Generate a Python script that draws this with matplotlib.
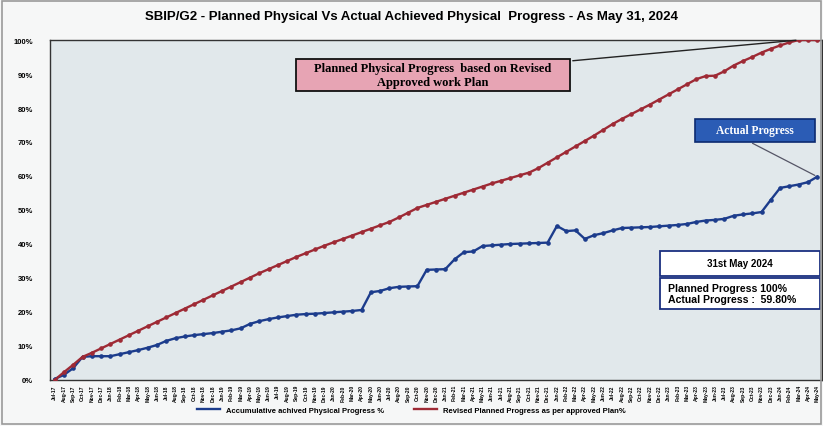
import numpy as np
import pandas as pd
import matplotlib
matplotlib.use("Agg")
from matplotlib import pyplot as plt
from matplotlib.patches import Rectangle

# month labels Jul-17 .. May-24
months = list(pd.date_range("2017-07-01", periods=83, freq="MS").strftime("%b-%y"))

planned = [0.0, 2.3, 4.5, 6.8, 8.0, 9.3, 10.6, 11.9, 13.2, 14.5,
           15.8, 17.1, 18.4, 19.7, 21.0, 22.3, 23.6, 24.9, 26.2, 27.5,
           28.8, 30.1, 31.4, 32.6, 33.8, 35.0, 36.2, 37.3, 38.4, 39.5,
           40.5, 41.5, 42.5, 43.5, 44.5, 45.5, 46.5, 47.8, 49.2, 50.6,
           51.5, 52.4, 53.3, 54.2, 55.1, 56.0, 56.9, 57.8, 58.6, 59.4,
           60.2, 61.0, 62.3, 63.9, 65.5, 67.1, 68.7, 70.3, 71.9, 73.6,
           75.3, 76.8, 78.2, 79.6, 81.0, 82.5, 84.0, 85.5, 87.0, 88.5,
           89.4, 89.5, 90.8, 92.5, 93.8, 95.0, 96.3, 97.4, 98.4, 99.3,
           100.0, 100.0, 100.0]

actual = [0.3, 1.5, 3.5, 6.8, 7.0, 7.0, 7.0, 7.6, 8.2, 8.8,
          9.5, 10.3, 11.5, 12.3, 12.8, 13.2, 13.5, 13.8, 14.2, 14.6,
          15.2, 16.5, 17.3, 17.9, 18.4, 18.8, 19.2, 19.4, 19.5, 19.7,
          19.9, 20.1, 20.3, 20.6, 25.8, 26.2, 27.0, 27.4, 27.5, 27.6,
          32.4, 32.5, 32.6, 35.5, 37.6, 37.8, 39.4, 39.6, 39.8, 40.0,
          40.1, 40.2, 40.3, 40.4, 45.3, 43.8, 44.0, 41.5, 42.6, 43.2,
          44.0, 44.7, 44.8, 44.9, 45.0, 45.2, 45.4, 45.6, 45.9, 46.5,
          46.9, 47.1, 47.4, 48.3, 48.7, 49.0, 49.4, 53.0, 56.5, 57.0,
          57.5, 58.2, 59.8]

yticks = [0, 10, 20, 30, 40, 50, 60, 70, 80, 90, 100]

title = "SBIP/G2 - Planned Physical Vs Actual Achieved Physical  Progress - As May 31, 2024"

plt.rcParams["font.family"] = ["Liberation Sans", "DejaVu Sans"]

fig = plt.figure(figsize=(8.23, 4.27), dpi=100, facecolor="#f6f7f7")
W, H = 823, 427
L, R, T, B = 50, 822, 41, 381
ax = fig.add_axes([L / W, 1 - B / H, (R - L) / W, (B - T) / H])
ax.set_facecolor("#e1e8eb")

x = np.arange(len(months))
ax.plot(x, actual, color="#1c3c8c", lw=1.7, marker="o", ms=2.3,
        label="Accumulative achived Physical Progress %", zorder=3)
ax.plot(x, planned, color="#9e2a35", lw=1.7, marker="o", ms=2.3,
        label="Revised Planned Progress as per approved Plan%", zorder=3)

ax.set_xlim(-0.5, len(months) - 0.5)
ax.set_ylim(0, 100)
ax.set_yticks(yticks)
ax.set_yticklabels([f"{v}%" for v in yticks], fontsize=5.5, fontweight="bold")
ax.set_xticks(x)
ax.set_xticklabels(months, rotation=90, fontsize=3.6, fontweight="bold")
ax.tick_params(axis="y", length=0, pad=12)
ax.tick_params(axis="x", length=0, pad=3)
for s in ax.spines.values():
    s.set_color("#333333")
    s.set_linewidth(1.0)


def px(xp, yp):
    return (xp - L) / (R - L), (B - yp) / (B - T)


# planned annotation box
x0, y0 = px(296, 92)
x1, y1 = px(570, 60)
ax.add_patch(Rectangle((x0, y0), x1 - x0, y1 - y0, transform=ax.transAxes,
                       facecolor="#e7a4b4", edgecolor="#111111", lw=1.3, zorder=5))
ax.text((x0 + x1) / 2, (y0 + y1) / 2,
        "Planned Physical Progress  based on Revised\nApproved work Plan",
        transform=ax.transAxes, ha="center", va="center", fontsize=9,
        fontweight="bold", family="Liberation Serif", linespacing=1.2, zorder=6)
ax.annotate("", xy=(80, 100), xytext=px(570, 62), textcoords="axes fraction",
            arrowprops=dict(arrowstyle="-", color="#222222", lw=1.0), zorder=4)

# actual annotation box
x0, y0 = px(695, 143)
x1, y1 = px(815, 120)
ax.add_patch(Rectangle((x0, y0), x1 - x0, y1 - y0, transform=ax.transAxes,
                       facecolor="#2b5cb5", edgecolor="#0c2a70", lw=1.2, zorder=5))
ax.text((x0 + x1) / 2, (y0 + y1) / 2, "Actual Progress", transform=ax.transAxes,
        ha="center", va="center", fontsize=8.3, fontweight="bold", color="white",
        family="Liberation Serif", zorder=6)
ax.annotate("", xy=(82, 59.8), xytext=px(750, 143), textcoords="axes fraction",
            arrowprops=dict(arrowstyle="-", color="#555566", lw=0.9), zorder=4)

# status box
x0, y0 = px(660, 277)
x1, y1 = px(820, 252)
ax.add_patch(Rectangle((x0, y0), x1 - x0, y1 - y0, transform=ax.transAxes,
                       facecolor="white", edgecolor="#1a2f80", lw=1.3, zorder=5))
ax.text((x0 + x1) / 2, (y0 + y1) / 2, "31st May 2024", transform=ax.transAxes,
        ha="center", va="center", fontsize=7, fontweight="bold", zorder=6)
x0, y0 = px(660, 310)
x1, y1 = px(820, 279)
ax.add_patch(Rectangle((x0, y0), x1 - x0, y1 - y0, transform=ax.transAxes,
                       facecolor="white", edgecolor="#1a2f80", lw=1.3, zorder=5))
ax.text(px(668, 0)[0], (y0 + y1) / 2, "Planned Progress 100%\nActual Progress :  59.80%",
        transform=ax.transAxes, ha="left", va="center", fontsize=7.6,
        fontweight="bold", linespacing=1.05, zorder=6)

fig.text(0.5, 1 - 17 / H, title, ha="center", va="center", fontsize=9.5,
         fontweight="bold")

fig.legend(loc="center", bbox_to_anchor=(0.5, 1 - 411 / H), ncol=2, frameon=False,
           prop={"size": 5.5, "weight": "bold"}, handlelength=3.0, columnspacing=4,
           markerscale=0)

# outer frame
fig.patches.append(Rectangle((0.003, 0.005), 0.994, 0.99, transform=fig.transFigure,
                             fill=False, edgecolor="#9a9a9a", lw=1.2))

fig.savefig("out.png", dpi=100, facecolor=fig.get_facecolor())
